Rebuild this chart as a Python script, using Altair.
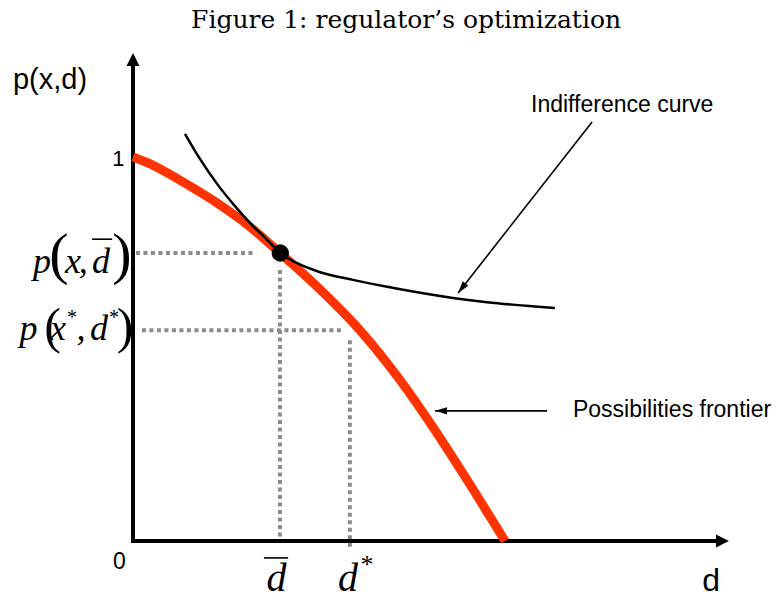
import altair as alt
import pandas as pd

# ---- scale domains (conceptual units: d on x, p on y) ----
X_DOMAIN = [-0.336, 1.7177]
Y_DOMAIN = [-0.138, 1.388]

# ---- curves ----
front_d = [0.0, 0.046, 0.134, 0.226, 0.315, 0.395, 0.503, 0.610, 0.718, 0.806, 0.898, 1.0]
front_p = [1.0, 0.982, 0.935, 0.880, 0.818, 0.750, 0.655, 0.549, 0.419, 0.297, 0.159, 0.0]

indiff_d = [0.140, 0.180, 0.226, 0.269, 0.315, 0.360, 0.396, 0.440, 0.503, 0.591, 0.683, 0.860, 0.952, 1.134]
indiff_p = [1.060, 0.995, 0.930, 0.878, 0.828, 0.785, 0.750, 0.724, 0.700, 0.680, 0.662, 0.633, 0.622, 0.607]

# tangency point
dot_d = [0.396]
dot_p = [0.750]

# dotted guide lines
guide_x1 = [0.008, 0.395, 0.024, 0.583]
guide_y1 = [0.750, 0.706, 0.549, 0.523]
guide_x2 = [0.331, 0.395, 0.565, 0.583]
guide_y2 = [0.750, 0.0, 0.549, -0.021]

# axes
axis_x1 = [0.0, 0.0]
axis_y1 = [0.0, 0.0]
axis_x2 = [0.0, 1.580]
axis_y2 = [1.250, 0.0]
axis_tip_x = [0.0, 1.602]
axis_tip_y = [1.271, 0.0]
axis_tip_ang = [0, 90]

# annotation arrows
ann_x1 = [1.234, 1.113]
ann_y1 = [1.091, 0.339]
ann_x2 = [0.874, 0.812]
ann_y2 = [0.646, 0.339]
ann_ang = [218, 270]

# texts
title_text = ["Figure 1: regulator\u2019s optimization"]
title_x = [0.734]
title_y = [1.335]

sans_text = ["p(x,d)", "1", "0", "Indifference curve", "Possibilities frontier"]
sans_x = [-0.223, -0.039, -0.0363, 1.315, 1.449]
sans_y = [1.2005, 0.9935, -0.0534, 1.135, 0.341]
sans_size = [29, 22, 23, 23, 23]

axis_lbl_text = ["d"]
axis_lbl_x = [1.554]
axis_lbl_y = [-0.130]
axis_lbl_size = [32]

ital_text = ["p", "x", ",", "d", "p", "x", ",", "d", "d", "d"]
ital_x = [-0.2446, -0.161, -0.134, -0.086, -0.281, -0.2016, -0.140, -0.0914, 0.386, 0.578]
ital_y = [0.698, 0.698, 0.698, 0.698, 0.5234, 0.5234, 0.5234, 0.5234, -0.130, -0.130]
ital_size = [36, 36, 36, 36, 36, 36, 36, 36, 40, 40]

star_text = ["*", "*", "*"]
star_x = [-0.164, -0.051, 0.629]
star_y = [0.581, 0.581, -0.062]
star_size = [20, 20, 26]

paren_text = ["(", ")", "(", ")"]
paren_x = [-0.199, -0.0296, -0.216, -0.0215]
paren_y = [0.698, 0.698, 0.5156, 0.5156]
paren_size = [58, 58, 50, 50]

bar_x1 = [-0.110, 0.352]
bar_x2 = [-0.056, 0.417]
bar_y = [0.786, -0.044]

xs = alt.Scale(domain=X_DOMAIN, nice=False, zero=False)
ys = alt.Scale(domain=Y_DOMAIN, nice=False, zero=False)


def X(f):
    return alt.X(f, type="quantitative", scale=xs, axis=None)


def Y(f):
    return alt.Y(f, type="quantitative", scale=ys, axis=None)


def text_layer(texts, x, y, sizes, font, baseline, style="normal"):
    df = pd.DataFrame({"t": texts, "x": x, "y": y, "s": sizes})
    return alt.Chart(df).mark_text(
        font=font, fontStyle=style, align="center", baseline=baseline, color="black"
    ).encode(x=X("x"), y=Y("y"), text="t:N", size=alt.Size("s:Q", scale=None))


guides = alt.Chart(pd.DataFrame({"x": guide_x1, "y": guide_y1, "x2": guide_x2, "y2": guide_y2})).mark_rule(
    color="#8c8c8c", strokeWidth=4, strokeDash=[4, 3.5]
).encode(x=X("x"), y=Y("y"), x2="x2", y2="y2")

axes = alt.Chart(pd.DataFrame({"x": axis_x1, "y": axis_y1, "x2": axis_x2, "y2": axis_y2})).mark_rule(
    color="black", strokeWidth=4, strokeCap="square"
).encode(x=X("x"), y=Y("y"), x2="x2", y2="y2")

axis_heads = alt.Chart(pd.DataFrame({"x": axis_tip_x, "y": axis_tip_y, "a": axis_tip_ang})).mark_point(
    shape="M0,0L-0.5,1L0.5,1Z", filled=True, color="black", opacity=1, size=676, strokeWidth=0
).encode(x=X("x"), y=Y("y"), angle=alt.Angle("a:Q", scale=None))

frontier = alt.Chart(pd.DataFrame({"d": front_d, "p": front_p})).mark_line(
    color="#ff3300", strokeWidth=9, interpolate="monotone", strokeCap="butt"
).encode(x=X("d"), y=Y("p"), order="d:Q")

indiff = alt.Chart(pd.DataFrame({"d": indiff_d, "p": indiff_p})).mark_line(
    color="black", strokeWidth=2.5, interpolate="monotone"
).encode(x=X("d"), y=Y("p"), order="d:Q")

dot = alt.Chart(pd.DataFrame({"d": dot_d, "p": dot_p})).mark_point(
    shape="circle", filled=True, color="black", opacity=1, size=300
).encode(x=X("d"), y=Y("p"))

ann_lines = alt.Chart(pd.DataFrame({"x": ann_x1, "y": ann_y1, "x2": ann_x2, "y2": ann_y2})).mark_rule(
    color="black", strokeWidth=1.6
).encode(x=X("x"), y=Y("y"), x2="x2", y2="y2")

ann_heads = alt.Chart(pd.DataFrame({"x": ann_x2, "y": ann_y2, "a": ann_ang})).mark_point(
    shape="M0,0L-0.3,1L0.3,1Z", filled=True, color="black", opacity=1, size=576, strokeWidth=0
).encode(x=X("x"), y=Y("y"), angle=alt.Angle("a:Q", scale=None))

bars = alt.Chart(pd.DataFrame({"x": bar_x1, "x2": bar_x2, "y": bar_y})).mark_rule(
    color="black", strokeWidth=1.6
).encode(x=X("x"), x2="x2", y=Y("y"))

title = text_layer(title_text, title_x, title_y, [25], "DejaVu Serif", "alphabetic")
sans = text_layer(sans_text, sans_x, sans_y, sans_size, "Liberation Sans", "middle")
axis_lbl = text_layer(axis_lbl_text, axis_lbl_x, axis_lbl_y, axis_lbl_size, "Liberation Sans", "alphabetic")
ital = text_layer(ital_text, ital_x, ital_y, ital_size, "Liberation Serif", "alphabetic", "italic")
stars = text_layer(star_text, star_x, star_y, star_size, "Liberation Serif", "middle")
parens = text_layer(paren_text, paren_x, paren_y, paren_size, "Liberation Serif", "alphabetic")

chart = alt.layer(
    guides, axes, axis_heads, frontier, indiff, dot, ann_lines, ann_heads, bars,
    title, sans, axis_lbl, ital, stars, parens
).properties(
    width=764, height=586, autosize=alt.AutoSizeParams(type="none"), padding=0
).configure_view(stroke=None)

chart.save("out.html", embed_options={"renderer": "svg", "actions": False})
